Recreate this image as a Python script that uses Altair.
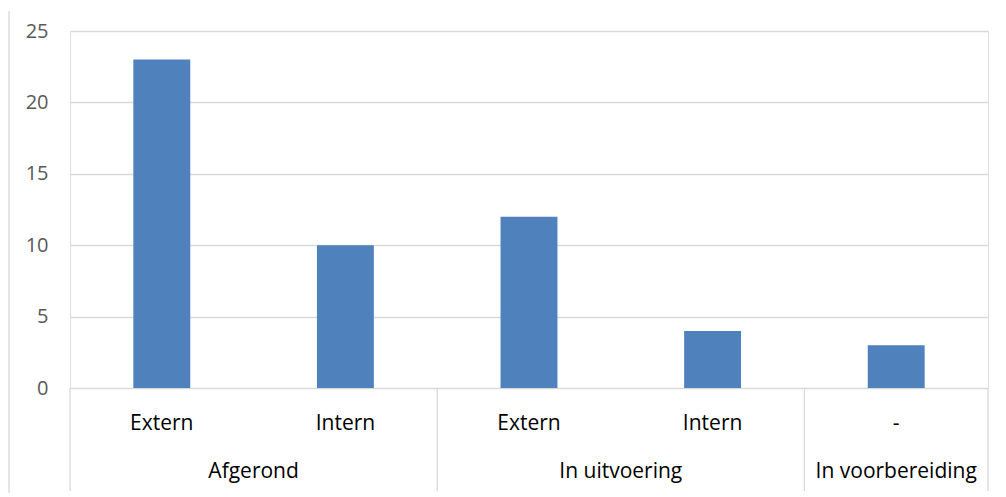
import altair as alt
import pandas as pd

groups = ["Afgerond", "Afgerond", "In uitvoering", "In uitvoering", "In voorbereiding"]
subs = ["Extern", "Intern", "Extern", "Intern", "-"]
values = [23, 10, 12, 4, 3]

group_names = ["Afgerond", "In uitvoering", "In voorbereiding"]
group_sizes = [2, 2, 1]

keys = [f"{g}|{s}|{i}" for i, (g, s) in enumerate(zip(groups, subs))]
bars_df = pd.DataFrame({"key": keys, "value": values})

starts = []
acc = 0
for n in group_sizes:
    starts.append(acc)
    acc += n
bounds = starts + [acc]
sep_df = pd.DataFrame({"pos": bounds})
grp_df = pd.DataFrame({"name": group_names,
                       "center": [s + n / 2 for s, n in zip(starts, group_sizes)]})

W, H = 918, 357
FONT_X = "Open Sans"
FONT_Y = "Open Sans"

bars = alt.Chart(bars_df).mark_bar(color="#4f81bd").encode(
    x=alt.X("key:N", sort=keys, title=None,
            scale=alt.Scale(paddingInner=0.69, paddingOuter=0.345),
            axis=alt.Axis(labelExpr="split(datum.label,'|')[1]", labelAngle=0,
                          domain=False, ticks=False, labelPadding=24,
                          labelFontSize=21, labelColor="#000000", labelFont=FONT_X)),
    y=alt.Y("value:Q", title=None,
            scale=alt.Scale(domain=[0, 25], nice=False),
            axis=alt.Axis(values=[0, 5, 10, 15, 20, 25], domain=False, ticks=False,
                          gridColor="#d9d9d9", gridWidth=1.3, labelPadding=22,
                          labelFontSize=20, labelColor="#595959", labelFont=FONT_Y)),
)

xq = alt.X("pos:Q", scale=alt.Scale(domain=[0, acc], nice=False), axis=None)

seps = alt.Chart(sep_df).mark_rule(color="#d9d9d9", strokeWidth=1.3).encode(
    x=xq, y=alt.value(H), y2=alt.value(H + 103))

labels = alt.Chart(grp_df).mark_text(fontSize=21, font=FONT_X, color="#000000",
                                     baseline="middle").encode(
    x=alt.X("center:Q", scale=alt.Scale(domain=[0, acc], nice=False), axis=None),
    y=alt.value(H + 84), text="name:N")

border = alt.Chart(sep_df.head(1)).mark_rule(color="#d9d9d9", strokeWidth=1.3).encode(
    x=alt.value(-61), y=alt.value(-20), y2=alt.value(H + 105))

chart = alt.layer(bars, seps, labels, border).resolve_scale(x="independent").properties(
    width=W, height=H,
    autosize=alt.AutoSizeParams(type="none"),
    padding={"left": 62, "top": 23, "right": 10, "bottom": 110},
).configure_view(stroke=None).configure(background="white")

chart.save("out.html", embed_options={"renderer": "svg", "actions": False})
